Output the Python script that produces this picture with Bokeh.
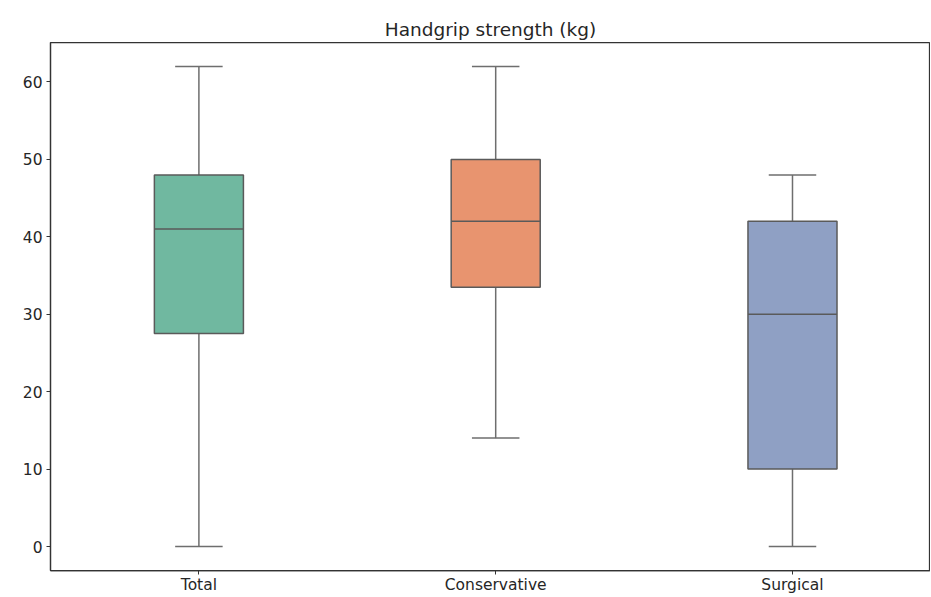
import numpy as np
from bokeh.plotting import figure
from bokeh.models import Range1d, FixedTicker, ColumnDataSource
from bokeh.embed import file_html
from bokeh.resources import INLINE

categories = ["Total", "Conservative", "Surgical"]
whisker_low = [0, 14, 0]
q1 = [27.5, 33.5, 10]
median = [41, 42, 30]
q3 = [48, 50, 42]
whisker_high = [62, 62, 48]
colors = ["#70b8a0", "#e8946f", "#8fa0c4"]
y_ticks = [0, 10, 20, 30, 40, 50, 60]

pos = np.arange(len(categories), dtype=float)
box_w = 0.3
cap_w = 0.16

src = ColumnDataSource(dict(
    x=pos, lo=whisker_low, q1=q1, med=median, q3=q3, hi=whisker_high, color=colors,
    bl=pos - box_w / 2, br=pos + box_w / 2, cl=pos - cap_w / 2, cr=pos + cap_w / 2,
))

p = figure(width=930, height=596, output_backend="svg", toolbar_location=None,
           x_range=Range1d(-0.5, 2.465), y_range=Range1d(-3.1, 65.1),
           min_border_left=50, min_border_right=0, min_border_top=42, min_border_bottom=24,
           title="Handgrip strength (kg)")

edge = "#5a5a5a"
wcol = "#6e6e6e"
# whiskers
p.segment(x0="x", y0="q3", x1="x", y1="hi", source=src, line_color=wcol, line_width=1.5)
p.segment(x0="x", y0="lo", x1="x", y1="q1", source=src, line_color=wcol, line_width=1.5)
p.segment(x0="cl", y0="hi", x1="cr", y1="hi", source=src, line_color=wcol, line_width=1.5)
p.segment(x0="cl", y0="lo", x1="cr", y1="lo", source=src, line_color=wcol, line_width=1.5)
# boxes
p.quad(left="bl", right="br", bottom="q1", top="q3", source=src,
       fill_color="color", line_color=edge, line_width=1.5)
p.segment(x0="bl", y0="med", x1="br", y1="med", source=src, line_color=edge, line_width=1.5)

p.title.align = "center"
p.title.text_font = "DejaVu Sans"
p.title.text_font_size = "18.5px"
p.title.text_font_style = "normal"
p.title.text_color = "#262626"
p.title.standoff = 6

p.xgrid.visible = False
p.ygrid.visible = False
p.outline_line_color = "#333333"
p.outline_line_width = 1.25

p.xaxis.ticker = FixedTicker(ticks=list(pos))
p.xaxis.major_label_overrides = {float(i): c for i, c in zip(pos, categories)}
p.xaxis.major_label_overrides.update({int(i): c for i, c in zip(pos, categories)})
p.yaxis.ticker = FixedTicker(ticks=y_ticks)

for ax in (p.xaxis, p.yaxis):
    ax.axis_line_color = "#333333"
    ax.axis_line_width = 1.25
    ax.major_tick_line_color = "#333333"
    ax.major_tick_in = 0
    ax.major_tick_out = 4
    ax.minor_tick_line_color = None
    ax.major_label_text_font = "DejaVu Sans"
    ax.major_label_text_font_size = "15.5px"
    ax.major_label_text_color = "#262626"
    ax.major_label_standoff = 4
p.xaxis.major_label_standoff = 1

open("out.html", "w").write(file_html(p, INLINE))
